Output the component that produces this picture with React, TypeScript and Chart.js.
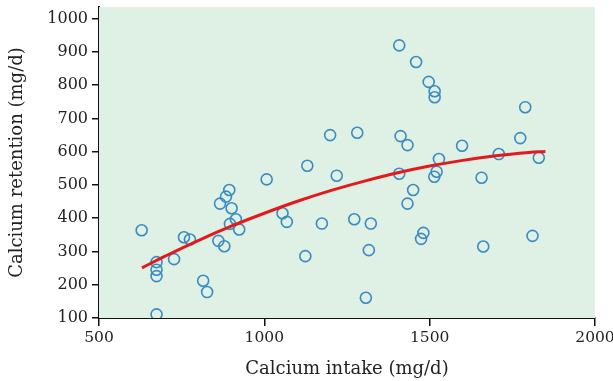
import React, { useEffect, useRef } from "react";
import { Chart, registerables } from "chart.js";

Chart.register(...registerables);

const intake = [
  629, 674, 674, 674, 674, 727, 757, 775, 815, 827,
  861, 879, 866, 884, 894, 901, 914, 896, 924, 1007,
  1055, 1068, 1124, 1130, 1174, 1219, 1199, 1272, 1281, 1322,
  1316, 1307, 1408, 1408, 1412, 1433, 1450, 1433, 1481, 1474,
  1459, 1497, 1515, 1515, 1514, 1521, 1528, 1598, 1657, 1662,
  1709, 1774, 1789, 1830, 1811,
];
const retention = [
  364, 268, 245, 226, 111, 277, 343, 336, 212, 178,
  332, 316, 444, 465, 485, 430, 397, 383, 366, 517,
  415, 389, 286, 558, 384, 528, 650, 397, 657, 384,
  304, 161, 534, 920, 647, 620, 485, 444, 356, 338,
  870, 810, 782, 764, 525, 540, 578, 618, 522, 315,
  593, 641, 734, 582, 347,
];

const fitIntake = [630, 700, 800, 900, 1000, 1100, 1200, 1300, 1400, 1500, 1600, 1700, 1800, 1850];
const fitRetention = [251, 286, 333, 376, 415, 451, 483, 511, 536, 557, 574, 588, 598, 601];

const xTicks = [500, 1000, 1500, 2000];
const yTicks = [100, 200, 300, 400, 500, 600, 700, 800, 900, 1000];

const FONT = "'DejaVu Serif', serif";

export default function App() {
  const ref = useRef<HTMLCanvasElement>(null);
  useEffect(() => {
    const bg = {
      id: "bg",
      beforeDatasetsDraw(chart: any) {
        const { ctx, chartArea: a } = chart;
        ctx.save();
        ctx.fillStyle = "#dff0e5";
        ctx.fillRect(a.left, a.top, a.right - a.left, a.bottom - a.top);
        ctx.restore();
      },
    };
    const chart = new Chart(ref.current!, {
      type: "scatter",
      data: {
        datasets: [
          {
            type: "line",
            data: fitIntake.map((x, i) => ({ x, y: fitRetention[i] })),
            borderColor: "#e3191c",
            borderWidth: 3,
            pointRadius: 0,
            tension: 0.4,
            fill: false,
            order: 0,
          } as any,
          {
            data: intake.map((x, i) => ({ x, y: retention[i] })),
            pointRadius: 5.5,
            pointBorderWidth: 1.6,
            pointBorderColor: "#3a8bc2",
            pointBackgroundColor: "rgba(0,0,0,0)",
            order: 1,
          },
        ],
      },
      options: {
        animation: false,
        responsive: false,
        maintainAspectRatio: false,
        layout: { padding: { top: 7, right: 18, bottom: 0, left: 0 } },
        plugins: { legend: { display: false }, tooltip: { enabled: false } },
        scales: {
          x: {
            type: "linear",
            min: 500,
            max: 2000,
            afterBuildTicks: (axis: any) => {
              axis.ticks = xTicks.map((v) => ({ value: v }));
            },
            afterFit: (axis: any) => {
              axis.height = 63;
              axis.paddingLeft = 0;
              axis.paddingRight = 0;
            },
            grid: { drawOnChartArea: false, drawTicks: true, tickLength: 8, color: "#111", lineWidth: 1.5 },
            border: { color: "#111", width: 2 },
            ticks: {
              color: "#222",
              font: { family: FONT, size: 15.5 },
              padding: 3,
              maxRotation: 0,
              callback: (v: any) => String(v),
            },
            title: {
              display: true,
              text: "Calcium intake (mg/d)",
              color: "#222",
              font: { family: FONT, size: 18 },
              padding: { top: 0, bottom: 1 },
            },
          },
          y: {
            type: "linear",
            min: 100,
            max: 1035,
            afterBuildTicks: (axis: any) => {
              axis.ticks = yTicks.map((v) => ({ value: v }));
            },
            afterFit: (axis: any) => {
              axis.width = 99;
              axis.paddingTop = 0;
              axis.paddingBottom = 0;
            },
            grid: { drawOnChartArea: false, drawTicks: true, tickLength: 7, color: "#111", lineWidth: 1.5 },
            border: { color: "#111", width: 2 },
            ticks: {
              color: "#222",
              font: { family: FONT, size: 16 },
              padding: 4,
              callback: (v: any) => String(v),
            },
            title: {
              display: true,
              text: "Calcium retention (mg/d)",
              color: "#222",
              font: { family: FONT, size: 18 },
              padding: { top: 7, bottom: 0 },
            },
          },
        },
      },
      plugins: [bg],
    });
    return () => chart.destroy();
  }, []);
  return (
    <div style={{ position: "fixed", left: 0, top: 0, width: 613, height: 381, background: "#fff" }}>
      <canvas ref={ref} width={613} height={381} style={{ width: 613, height: 381 }} />
    </div>
  );
}
